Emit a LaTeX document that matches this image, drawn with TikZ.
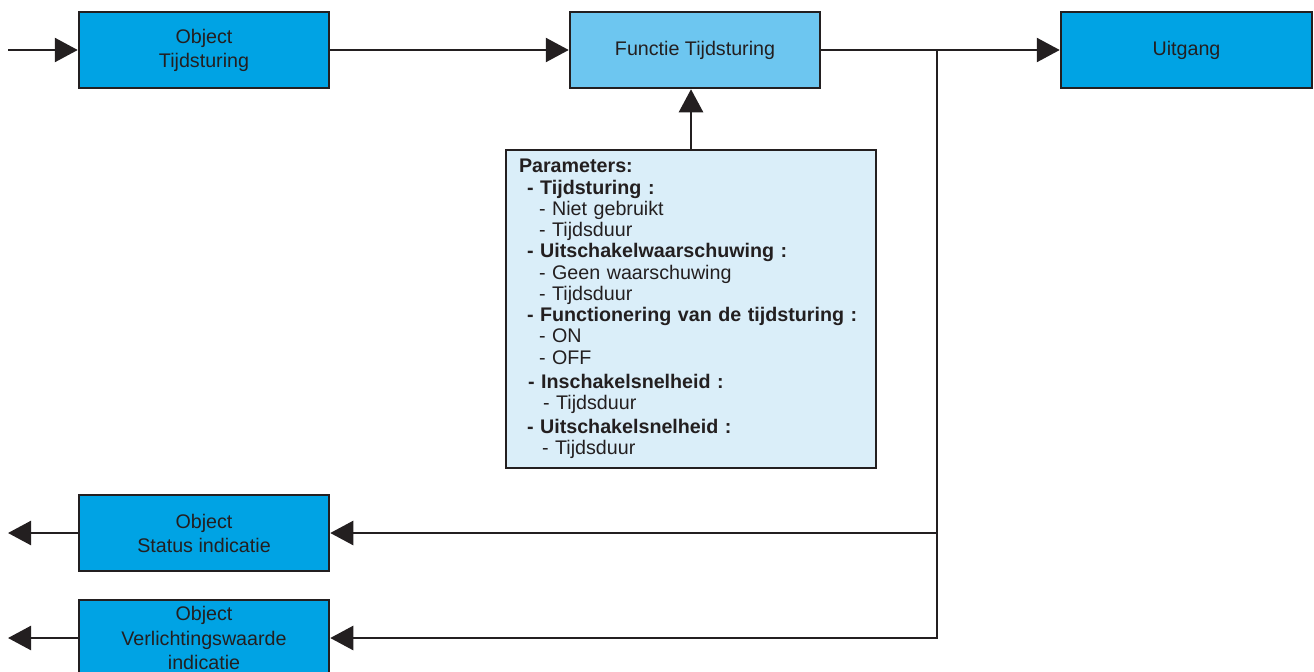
\documentclass[tikz,border=0pt]{standalone}
\usepackage{fontspec}
\setmainfont{Liberation Sans}
\usetikzlibrary{arrows.meta,positioning}
\definecolor{boxblue}{HTML}{00A3E4}
\definecolor{lightblue}{HTML}{6DC6F0}
\definecolor{paleblue}{HTML}{DAEEF9}
\definecolor{inkline}{HTML}{231F20}

\begin{document}
\begin{tikzpicture}[
    box/.style={draw=inkline, line width=0.5mm, minimum width=5cm, minimum height=1.52cm,
      align=center, text=inkline, inner sep=0pt, font=\fontsize{11.2}{13.7}\selectfont},
    link/.style={draw=inkline, line width=0.5mm, -{Triangle[length=4.6mm, width=4.8mm]}}
  ]
  \useasboundingbox (0,0) rectangle (26.28,-13.42);

  % top row
  \node[box, fill=boxblue] (objtijd) at (4.08,-1.0) {Object\\Tijdsturing};
  \node[box, fill=lightblue] (functie) at (13.9,-1.0) {Functie Tijdsturing};
  \node[box, fill=boxblue, minimum width=5.02cm] (uitgang) at (23.73,-1.0) {Uitgang};

  % parameters
  \node[draw=inkline, fill=paleblue, line width=0.5mm, text=inkline, align=left,
    text width=6.88cm, inner xsep=0.26cm, minimum height=6.36cm,
    font=\fontsize{11.2}{12.1}\selectfont] (params) at (13.82,-6.18) {%
    \textbf{Parameters:}\\
    \hspace*{1.6mm}\textbf{- Tijdsturing :}\\
    \hspace*{4mm}- Niet gebruikt\\
    \hspace*{4mm}- Tijdsduur\\
    \hspace*{1.6mm}\textbf{- Uitschakelwaarschuwing :}\\
    \hspace*{4mm}- Geen waarschuwing\\
    \hspace*{4mm}- Tijdsduur\\
    \hspace*{1.6mm}\textbf{- Functionering van de tijdsturing :}\\
    \hspace*{4mm}- ON\\
    \hspace*{4mm}- OFF\\[1.5pt]
    \hspace*{1.8mm}\textbf{- Inschakelsnelheid :}\\
    \hspace*{4.8mm}- Tijdsduur\\[1.5pt]
    \hspace*{1.6mm}\textbf{- Uitschakelsnelheid :}\\
    \hspace*{4.6mm}- Tijdsduur};

  % bottom row
  \node[box, fill=boxblue] (status) at (4.08,-10.66) {Object\\Status indicatie};
  \node[box, fill=boxblue] (verlicht) at (4.08,-12.76) {Object\\Verlichtingswaarde\\indicatie};

  \coordinate (ingang) at (0.16,-1.0);
  \coordinate (split) at (18.74,-1.0);
  \coordinate (statusuit) at (0.16,-10.66);
  \coordinate (verlichtuit) at (0.16,-12.76);

  % connectors
  \draw[link] (ingang) -- (objtijd.west);
  \draw[link] (objtijd.east) -- (functie.west);
  \draw[link] (functie.east) -- (split) -- (uitgang.west);
  \draw[link] (params.north) -- (params.north |- functie.south);
  \draw[link] (split) |- (verlicht.east);
  \draw[link] (split |- status.east) -- (status.east);
  \draw[link] (status.west) -- (statusuit);
  \draw[link] (verlicht.west) -- (verlichtuit);
\end{tikzpicture}
\end{document}
